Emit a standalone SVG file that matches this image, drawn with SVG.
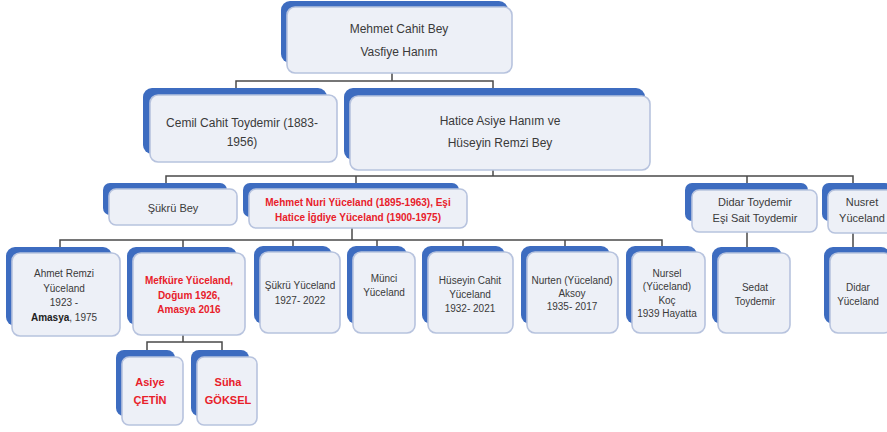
<svg xmlns="http://www.w3.org/2000/svg" width="887" height="432" viewBox="0 0 887 432">
<style>
.bg{fill:#3d6cc0}
.fr{fill:#edf0f7;stroke:#b7c3de;stroke-width:1.6}
.c{fill:none;stroke:#4a4a4a;stroke-width:1.5}
text{font-family:"Liberation Sans",Arial,sans-serif;text-anchor:middle;fill:#3a3a3a}
.t12{font-size:12px}
.t11{font-size:11px}
.t10{font-size:10px}
.r{fill:#e8202a;font-weight:bold}
.b{font-weight:bold;fill:#222}
</style>
<rect width="887" height="432" fill="#ffffff"/>
<g id="connectors">
<path class="c" d="M392 73V81M236 88V81H493V88"/>
<path class="c" d="M493 170V176M166 183V176H853V183M356 176V183M747 176V183"/>
<path class="c" d="M352 228V240M60 247V240H662V247M183 240V247M293 240V247M377 240V247M463 240V247M565 240V247"/>
<path class="c" d="M747 232V247M853 233V247"/>
<path class="c" d="M183 335V342M147 350V342H222V350"/>
</g>
<g id="n1"><rect class="bg" x="281" y="1" width="227" height="62" rx="9"/><rect class="fr" x="287" y="7" width="225" height="66" rx="8"/>
<text class="t12" x="399" y="33">Mehmet Cahit Bey</text><text class="t12" x="399" y="56">Vasfiye Hanım</text></g>
<g id="n2"><rect class="bg" x="143" y="88" width="184" height="66" rx="9"/><rect class="fr" x="150" y="95" width="187" height="67" rx="8"/>
<text class="t12" x="242" y="127">Cemil Cahit Toydemir (1883-</text><text class="t12" x="242" y="146">1956)</text></g>
<g id="n3"><rect class="bg" x="344" y="88" width="301" height="72" rx="9"/><rect class="fr" x="350" y="96" width="300" height="74" rx="8"/>
<text class="t12" x="500" y="125">Hatice Asiye Hanım ve</text><text class="t12" x="500" y="147">Hüseyin Remzi Bey</text></g>
<g id="n4"><rect class="bg" x="103" y="183" width="124" height="32" rx="7"/><rect class="fr" x="109" y="189" width="128" height="36" rx="7"/>
<text class="t11" x="173" y="212">Şükrü Bey</text></g>
<g id="n5"><rect class="bg" x="243" y="183" width="216" height="34" rx="7"/><rect class="fr" x="249" y="189" width="218" height="39" rx="7"/>
<text class="t10 r" x="358" y="206" font-size="9.5">Mehmet Nuri Yüceland (1895-1963), Eşi</text><text class="t10 r" x="358" y="221" font-size="9.5">Hatice İğdiye Yüceland (1900-1975)</text></g>
<g id="n6"><rect class="bg" x="685" y="183" width="123" height="38" rx="7"/><rect class="fr" x="692" y="190" width="125" height="42" rx="7"/>
<text class="t11" x="755" y="206">Didar Toydemir</text><text class="t11" x="755" y="222">Eşi Sait Toydemir</text></g>
<g id="n7"><rect class="bg" x="822" y="183" width="70" height="38" rx="7"/><rect class="fr" x="828" y="190" width="67" height="43" rx="7"/>
<text class="t11" x="862" y="206">Nusret</text><text class="t11" x="862" y="222">Yüceland</text></g>
<g id="n8"><rect class="bg" x="6" y="247" width="106" height="79" rx="9"/><rect class="fr" x="12" y="253" width="108" height="83" rx="8"/>
<text class="t10" x="64" y="277">Ahmet Remzi</text><text class="t10" x="64" y="292">Yüceland</text><text class="t10" x="64" y="306">1923 -</text><text class="t10" x="64" y="321"><tspan class="b">Amasya</tspan>, 1975</text></g>
<g id="n9"><rect class="bg" x="127" y="247" width="110" height="78" rx="9"/><rect class="fr" x="133" y="253" width="112" height="82" rx="8"/>
<text class="t10 r" x="189" y="284">Mefküre Yüceland,</text><text class="t10 r" x="189" y="299">Doğum 1926,</text><text class="t10 r" x="189" y="313">Amasya 2016</text></g>
<g id="n10"><rect class="bg" x="254" y="246" width="78" height="78" rx="9"/><rect class="fr" x="260" y="252" width="80" height="81" rx="8"/>
<text class="t10" x="300" y="289">Şükrü Yüceland</text><text class="t10" x="300" y="304">1927- 2022</text></g>
<g id="n11"><rect class="bg" x="347" y="246" width="60" height="78" rx="9"/><rect class="fr" x="353" y="252" width="62" height="81" rx="8"/>
<text class="t10" x="384" y="282">Münci</text><text class="t10" x="384" y="296">Yüceland</text></g>
<g id="n12"><rect class="bg" x="422" y="246" width="83" height="78" rx="9"/><rect class="fr" x="428" y="252" width="85" height="81" rx="8"/>
<text class="t10" x="470" y="284">Hüseyin Cahit</text><text class="t10" x="470" y="298">Yüceland</text><text class="t10" x="470" y="312">1932- 2021</text></g>
<g id="n13"><rect class="bg" x="521" y="246" width="89" height="78" rx="9"/><rect class="fr" x="527" y="252" width="91" height="81" rx="8"/>
<text class="t10" x="572" y="284">Nurten (Yüceland)</text><text class="t10" x="572" y="297">Aksoy</text><text class="t10" x="572" y="310">1935- 2017</text></g>
<g id="n14"><rect class="bg" x="626" y="246" width="71" height="78" rx="9"/><rect class="fr" x="632" y="252" width="73" height="81" rx="8"/>
<text class="t10" x="667" y="277">Nursel</text><text class="t10" x="667" y="290">(Yüceland)</text><text class="t10" x="667" y="304">Koç</text><text class="t10" x="667" y="317">1939 Hayatta</text></g>
<g id="n15"><rect class="bg" x="712" y="247" width="70" height="77" rx="9"/><rect class="fr" x="718" y="253" width="72" height="80" rx="8"/>
<text class="t10" x="755" y="291">Sedat</text><text class="t10" x="755" y="305">Toydemir</text></g>
<g id="n16"><rect class="bg" x="824" y="247" width="66" height="77" rx="9"/><rect class="fr" x="830" y="253" width="62" height="80" rx="8"/>
<text class="t10" x="858" y="291">Didar</text><text class="t10" x="858" y="305">Yüceland</text></g>
<g id="n17"><rect class="bg" x="116" y="350" width="59" height="66" rx="8"/><rect class="fr" x="122" y="357" width="61" height="68" rx="7"/>
<text class="t11 r" x="150" y="386" font-size="10.5">Asiye</text><text class="t11 r" x="150" y="404" font-size="10.5">ÇETİN</text></g>
<g id="n18"><rect class="bg" x="191" y="350" width="58" height="66" rx="8"/><rect class="fr" x="197" y="357" width="60" height="68" rx="7"/>
<text class="t11 r" x="228" y="386" font-size="10.5">Süha</text><text class="t11 r" x="228" y="404" font-size="10.5">GÖKSEL</text></g>
</svg>
